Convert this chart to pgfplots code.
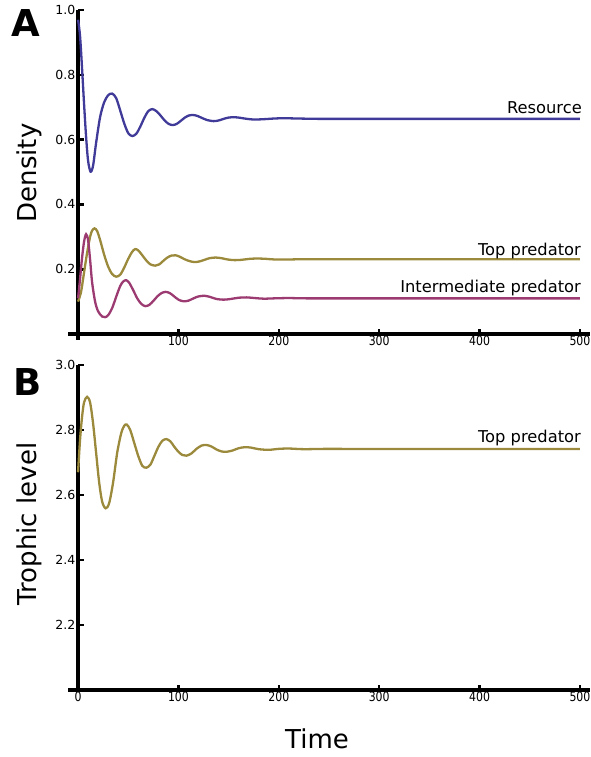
\documentclass[border=0pt]{standalone}
\usepackage{fontspec}
\setmainfont{DejaVu Sans}
\newfontfamily\xtickfont[FakeStretch=0.84]{DejaVu Sans}
\newfontfamily\ytickfont{DejaVu Sans}
\usepackage{pgfplots}
\pgfplotsset{compat=1.18}
\definecolor{resc}{RGB}{64,58,152}
\definecolor{topc}{RGB}{155,138,60}
\definecolor{intc}{RGB}{156,58,114}
\pgfplotsset{
  common/.style={
    scale only axis, width=522pt, anchor=south west,
    xmin=-10, xmax=510,
    axis lines=middle,
    axis line style={-, line width=3.4pt, black},
    tick align=inside, major tick length=5.5pt,
    tick style={line width=2.6pt, black},
    hide obscured x ticks=false, hide obscured y ticks=false,
    xticklabel style={inner sep=2pt, font=\fontsize{13}{14}\xtickfont},
    yticklabel style={inner sep=2.5pt, font=\fontsize{12.5}{14}\ytickfont},
    /pgf/number format/assume math mode=true,
    yticklabel style={/pgf/number format/fixed, /pgf/number format/fixed zerofill, /pgf/number format/precision=1},
    xticklabel style={/pgf/number format/1000 sep={}},
    clip=false,
  }
}
\begin{document}
\begin{tikzpicture}
\begin{axis}[common, at={(68pt,-340pt)}, height=330pt,
  ymin=-0.0185, ymax=1,
  xtick={100,200,300,400,500}, ytick={0.2,0.4,0.6,0.8,1.0}]
\addplot[resc, line width=2.3pt, smooth, tension=0.5] coordinates {
(0,0.97)(2,0.92)(4,0.82)(6,0.71)(8,0.61)(10,0.535)(12.5,0.501)(15,0.52)(18,0.59)(22,0.67)(26,0.715)(30,0.737)(34,0.742)(38,0.728)(42,0.69)(46,0.65)(50,0.62)(54,0.611)(58,0.618)(62,0.64)(66,0.667)(70,0.688)(74,0.694)(78,0.688)(82,0.675)(86,0.66)(90,0.649)(94,0.645)(98,0.648)(102,0.657)(106,0.667)(110,0.674)(114.5,0.676)(119,0.673)(124,0.666)(129,0.66)(135,0.657)(140,0.659)(145,0.664)(150,0.668)(155,0.669)(160,0.668)(166,0.665)(175,0.662)(185,0.663)(195,0.665)(205,0.666)(220,0.665)(240,0.664)(260,0.664)(300,0.664)(400,0.664)(500,0.664)};
\addplot[topc, line width=2.3pt, smooth, tension=0.5] coordinates {
(0,0.10)(3,0.13)(6,0.19)(9,0.25)(12,0.30)(14,0.319)(16.4,0.326)(19,0.318)(22,0.29)(26,0.245)(30,0.208)(34,0.185)(38,0.177)(42,0.183)(46,0.205)(50,0.232)(54,0.254)(57,0.262)(60,0.258)(64,0.243)(68,0.227)(72,0.215)(77,0.211)(81,0.215)(85,0.226)(89,0.236)(93,0.242)(97,0.243)(101,0.239)(106,0.231)(111,0.225)(116,0.222)(121,0.224)(126,0.229)(131,0.234)(137,0.236)(143,0.234)(149,0.230)(156,0.228)(163,0.229)(171,0.232)(179,0.233)(187,0.232)(196,0.230)(210,0.230)(230,0.231)(300,0.2305)(500,0.2305)};
\addplot[intc, line width=2.3pt, smooth, tension=0.5] coordinates {
(0,0.11)(2,0.17)(4,0.235)(6,0.285)(8,0.308)(10,0.29)(12,0.23)(14,0.16)(17,0.10)(20,0.07)(24,0.054)(27,0.052)(30,0.058)(34,0.08)(38,0.115)(42,0.148)(45,0.162)(48,0.166)(51,0.158)(55,0.135)(59,0.11)(63,0.093)(67,0.086)(71,0.09)(75,0.102)(79,0.116)(83,0.126)(87,0.130)(91,0.127)(95,0.118)(100,0.106)(105,0.101)(110,0.103)(115,0.110)(120,0.116)(126,0.118)(132,0.114)(138,0.108)(145,0.106)(152,0.108)(160,0.112)(168,0.113)(176,0.111)(185,0.109)(195,0.110)(210,0.111)(230,0.110)(300,0.110)(500,0.110)};
\end{axis}
\begin{axis}[common, at={(68pt,-690pt)}, height=325pt,
  ymin=2, ymax=3,
  xtick={0,100,200,300,400,500}, ytick={2.2,2.4,2.6,2.8,3.0}]
\addplot[topc, line width=2.3pt, smooth, tension=0.5] coordinates {
(0,2.67)(2,2.77)(4,2.84)(6,2.885)(9,2.902)(12,2.885)(15,2.82)(18,2.73)(21,2.64)(24,2.58)(27.5,2.559)(31,2.575)(35,2.64)(39,2.73)(43,2.79)(46,2.813)(48.5,2.817)(52,2.80)(56,2.76)(60,2.72)(64,2.69)(68,2.684)(72,2.693)(76,2.72)(80,2.748)(84,2.767)(88,2.772)(92,2.765)(96,2.748)(100,2.733)(104,2.723)(108,2.721)(113,2.728)(118,2.742)(123,2.752)(128,2.754)(133,2.749)(138,2.740)(143,2.734)(148,2.733)(154,2.737)(160,2.744)(166,2.747)(172,2.746)(180,2.741)(190,2.739)(200,2.742)(210,2.743)(225,2.741)(250,2.742)(300,2.7415)(500,2.7415)};
\end{axis}
\node[anchor=base east, inner sep=0, font=\fontsize{16.3}{18}\selectfont] at (582pt,-113.3pt) {Resource};
\node[anchor=base east, inner sep=0, font=\fontsize{16.3}{18}\selectfont] at (581pt,-255.7pt) {Top predator};
\node[anchor=base east, inner sep=0, font=\fontsize{16.3}{18}\selectfont] at (581pt,-292.7pt) {Intermediate predator};
\node[anchor=base east, inner sep=0, font=\fontsize{16.3}{18}\selectfont] at (581pt,-442.7pt) {Top predator};
\node[anchor=base, rotate=90, inner sep=0, font=\fontsize{26}{28}\selectfont] at (36pt,-173pt) {Density};
\node[anchor=base, rotate=90, inner sep=0, font=\fontsize{26}{28}\selectfont] at (36pt,-524pt) {Trophic level};
\node[anchor=base, inner sep=0, font=\fontsize{26}{28}\selectfont] at (317pt,-748pt) {Time};
\node[anchor=base west, inner sep=0, font=\fontsize{37}{40}\bfseries] at (11pt,-37pt) {A};
\node[anchor=base west, inner sep=0, font=\fontsize{37}{40}\bfseries] at (13pt,-395pt) {B};
\pgfresetboundingbox
\useasboundingbox (0,0) rectangle (591pt,-757pt);
\end{tikzpicture}
\end{document}
